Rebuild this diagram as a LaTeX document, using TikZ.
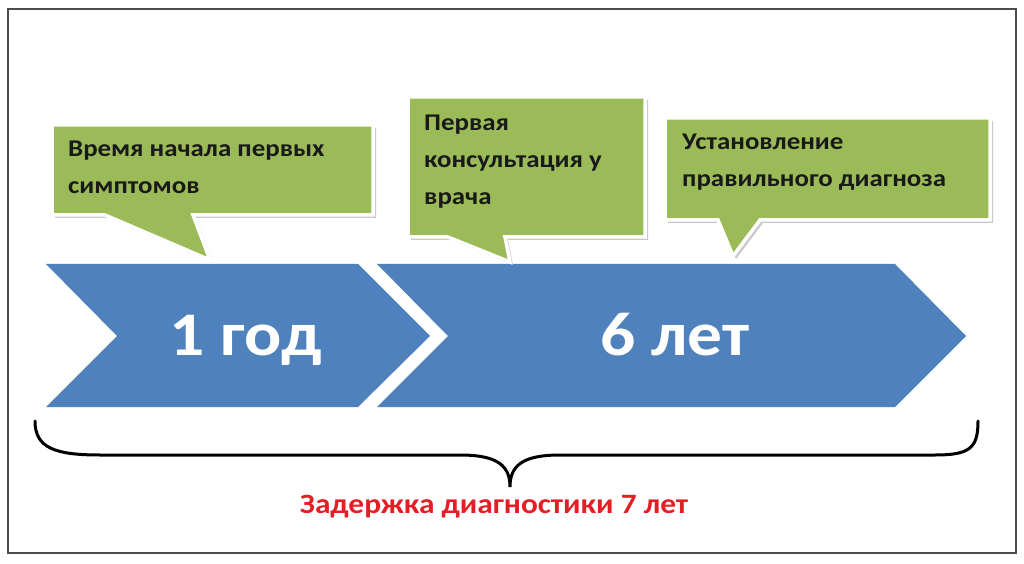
\documentclass[tikz,border=0pt]{standalone}
\usepackage{fontspec}
\setmainfont{Carlito}
\newfontfamily\widefont[FakeStretch=1.12]{Carlito}
\definecolor{chevblue}{HTML}{4F81BD}
\definecolor{callgreen}{HTML}{9BBB59}
\definecolor{delayred}{HTML}{E31E24}
\begin{document}
\begin{tikzpicture}[x=1bp,y=-1bp,
  chev/.style={fill=chevblue,draw=none},
  callout/.style={fill=callgreen,draw=white,line width=3.5bp,line join=miter},
  callshadow/.style={fill=black!35,draw=none,opacity=0.6},
  calltext/.style={align=left,anchor=base west,inner sep=0pt,font=\widefont\bfseries\fontsize{24bp}{37bp}\selectfont,text=black!90},
  bigtext/.style={anchor=base,font=\widefont\bfseries\fontsize{62bp}{70bp}\selectfont,text=white,inner sep=0pt},
  bracestyle/.style={draw=black,line width=3bp,line cap=round}]
\useasboundingbox (0,0) rectangle (1024,564);
% frame
\draw[black!70,line width=1.6bp] (8,9) rectangle (1016,553);
% chevrons
\fill[chev] (46,264) -- (358,264) -- (430,336) -- (358,407) -- (46,407) -- (117,336) -- cycle;
\fill[chev] (377,264) -- (895,264) -- (966,336) -- (895,407) -- (377,407) -- (448,336) -- cycle;
\node[bigtext] (y1) at (246,355) {1 год};
\node[bigtext] (y6) at (675,355) {6 лет};
% callout 1
\fill[callshadow] (55,128) -- (376,128) -- (376,218) -- (196,218) -- (213,263) -- (108,218) -- (55,218) -- cycle;
\draw[callout] (52,125) -- (373,125) -- (373,215) -- (193,215) -- (210,260) -- (105,215) -- (52,215) -- cycle;
\node[calltext] (t1) at (68,194) {Время начала первых\\симптомов};
% callout 2
\fill[callshadow] (411,100) -- (648,100) -- (648,240) -- (508,240) -- (513,265) -- (451,240) -- (411,240) -- cycle;
\draw[callout] (408,97) -- (645,97) -- (645,237) -- (505,237) -- (510,262) -- (448,237) -- (408,237) -- cycle;
\node[calltext] (t2) at (424,205) {Первая\\консультация у\\врача};
% callout 3
\fill[callshadow] (668,121) -- (993,121) -- (993,223) -- (763,223) -- (736,259) -- (721,223) -- (668,223) -- cycle;
\draw[callout] (665,118) -- (990,118) -- (990,220) -- (760,220) -- (733,256) -- (718,220) -- (665,220) -- cycle;
\node[calltext] (t3) at (682,187) {Установление\\правильного диагноза};
% brace
\draw[bracestyle] (35,421) .. controls (35,448) and (55,455) .. (100,455) -- (460,455) .. controls (498,455) and (510,466) .. (510,487) .. controls (510,466) and (522,455) .. (560,455) -- (935,455) .. controls (970,455) and (978,448) .. (978,421);
\node[anchor=base,font=\widefont\bfseries\fontsize{28bp}{32bp}\selectfont,text=delayred,inner sep=0pt] (delay) at (494,513) {Задержка диагностики 7 лет};
\end{tikzpicture}
\end{document}
